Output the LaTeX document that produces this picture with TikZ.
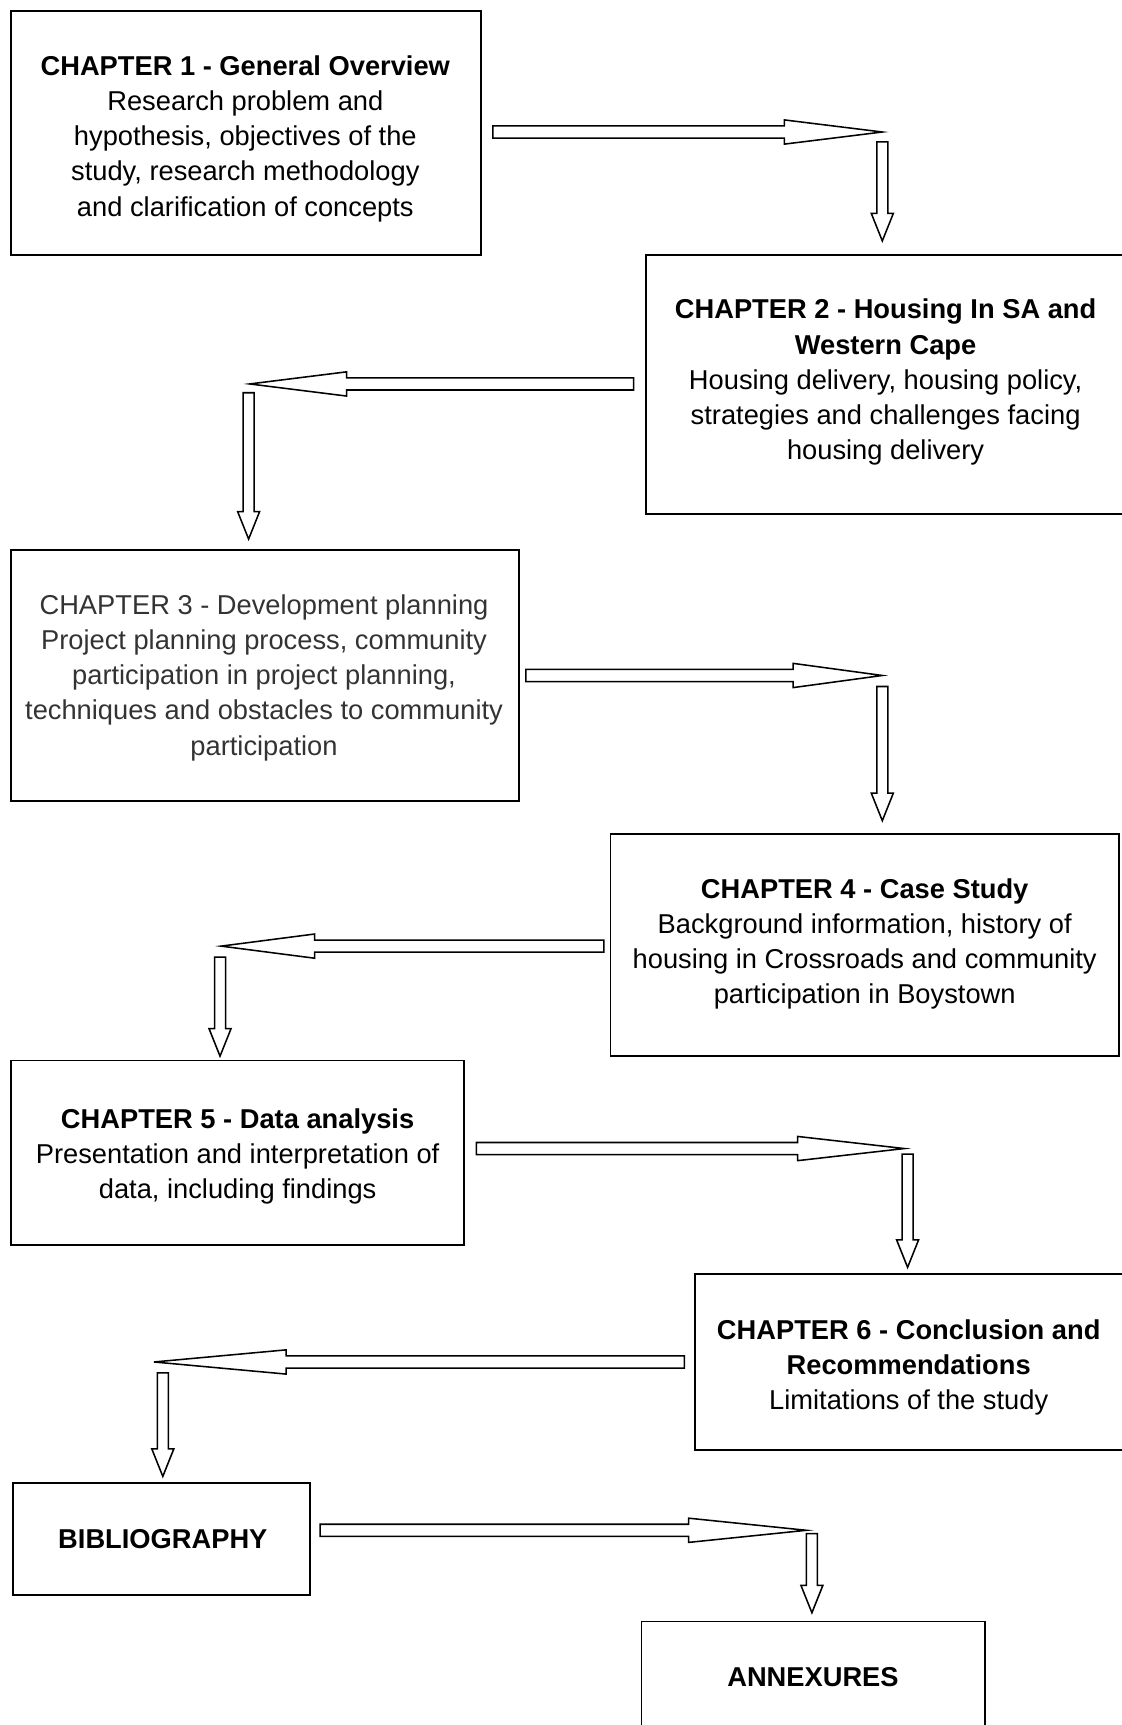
\documentclass[tikz,border=0pt]{standalone}
\usepackage{fontspec}
\setmainfont{Liberation Sans}
\usetikzlibrary{calc}
\tikzset{
  box/.style={draw, line width=1.6pt, inner sep=0pt},
  txt/.style={inner sep=0pt, align=center, font=\fontsize{24.8}{32}\selectfont},
  arr/.style={draw, line width=1.4pt, fill=white, line join=miter},
}
% horizontal block arrow: start, tip, signed head length
\newcommand\harr[3]{%
  \draw[arr] let \p1=(#1), \p2=(#2), \n1={#3} in
    (\x1,{\y2+5.5pt}) -- ({\x2-\n1},{\y2+5.5pt}) -- ({\x2-\n1},{\y2+11pt}) -- (\x2,\y2)
    -- ({\x2-\n1},{\y2-11pt}) -- ({\x2-\n1},{\y2-5.5pt}) -- (\x1,{\y2-5.5pt}) -- cycle;}
% vertical (downward) block arrow: start, tip
\newcommand\varr[2]{%
  \draw[arr] let \p1=(#1), \p2=(#2) in
    ({\x2-5pt},\y1) -- ({\x2-5pt},{\y2+25pt}) -- ({\x2-10pt},{\y2+25pt}) -- (\x2,\y2)
    -- ({\x2+10pt},{\y2+25pt}) -- ({\x2+5pt},{\y2+25pt}) -- ({\x2+5pt},\y1) -- cycle;}
\begin{document}
\begin{tikzpicture}[x=1pt,y=-1pt]
\useasboundingbox (0,0) rectangle (1019,1568);

% boxes
\node[box, minimum width=427pt, minimum height=222pt] (b1) at (223.5,121) {};
\node[box, minimum width=437pt, minimum height=235pt] (b2) at (805.5,349.5) {};
\node[box, minimum width=462pt, minimum height=228pt] (b3) at (241,614) {};
\node[box, minimum width=462pt, minimum height=202pt] (b4) at (786,859) {};
\node[box, minimum width=412pt, minimum height=168pt] (b5) at (216,1048) {};
\node[box, minimum width=392pt, minimum height=160pt] (b6) at (828,1238) {};
\node[box, minimum width=270pt, minimum height=102pt] (b7) at (147,1399) {};
\node[box, minimum width=312pt, minimum height=106pt] (b8) at (739,1527) {};

% texts
\node[txt] (t1) at (223,126)
  {\textbf{CHAPTER 1 - General Overview}\\Research problem and\\hypothesis, objectives of the\\study, research methodology\\and clarification of concepts};
\node[txt] (t2) at (805,347.5)
  {\textbf{CHAPTER 2 - Housing In SA and}\\\textbf{Western Cape}\\Housing delivery, housing policy,\\strategies and challenges facing\\housing delivery};
\node[txt, text=black!80] (t3) at (240,616)
  {CHAPTER 3 - Development planning\\Project planning process, community\\participation in project planning,\\techniques and obstacles to community\\participation};
\node[txt] (t4) at (786,858)
  {\textbf{CHAPTER 4 - Case Study}\\Background information, history of\\housing in Crossroads and community\\participation in Boystown};
\node[txt] (t5) at (216,1051)
  {\textbf{CHAPTER 5 - Data analysis}\\Presentation and interpretation of\\data, including findings};
\node[txt] (t6) at (826,1243)
  {\textbf{CHAPTER 6 - Conclusion and}\\\textbf{Recommendations}\\Limitations of the study};
\node[txt] (t7) at (148,1399) {\textbf{BIBLIOGRAPHY}};
\node[txt] (t8) at (739,1524) {\textbf{ANNEXURES}};

% connector end points
\coordinate (a1s) at (448,120);  \coordinate (a1t) at (802,120);
\coordinate (d1s) at (802,129);  \coordinate (d1t) at (802,219);
\coordinate (a2s) at (576,349);  \coordinate (a2t) at (227,349);
\coordinate (d2s) at (226,357);  \coordinate (d2t) at (226,490);
\coordinate (a3s) at (478,614);  \coordinate (a3t) at (802,614);
\coordinate (d3s) at (802,624);  \coordinate (d3t) at (802,746);
\coordinate (a4s) at (549,860);  \coordinate (a4t) at (201,860);
\coordinate (d4s) at (200,870);  \coordinate (d4t) at (200,960);
\coordinate (a5s) at (433,1044); \coordinate (a5t) at (822,1044);
\coordinate (d5s) at (825,1049); \coordinate (d5t) at (825,1152);
\coordinate (a6s) at (622,1238); \coordinate (a6t) at (140,1238);
\coordinate (d6s) at (148,1248); \coordinate (d6t) at (148,1342);
\coordinate (a7s) at (291,1391); \coordinate (a7t) at (733,1391);
\coordinate (d7s) at (738,1394); \coordinate (d7t) at (738,1466);

\harr{a1s}{a1t}{89pt}  \varr{d1s}{d1t}
\harr{a2s}{a2t}{-88pt} \varr{d2s}{d2t}
\harr{a3s}{a3t}{81pt}  \varr{d3s}{d3t}
\harr{a4s}{a4t}{-85pt} \varr{d4s}{d4t}
\harr{a5s}{a5t}{97pt}  \varr{d5s}{d5t}
\harr{a6s}{a6t}{-120pt} \varr{d6s}{d6t}
\harr{a7s}{a7t}{107pt} \varr{d7s}{d7t}
\end{tikzpicture}
\end{document}
